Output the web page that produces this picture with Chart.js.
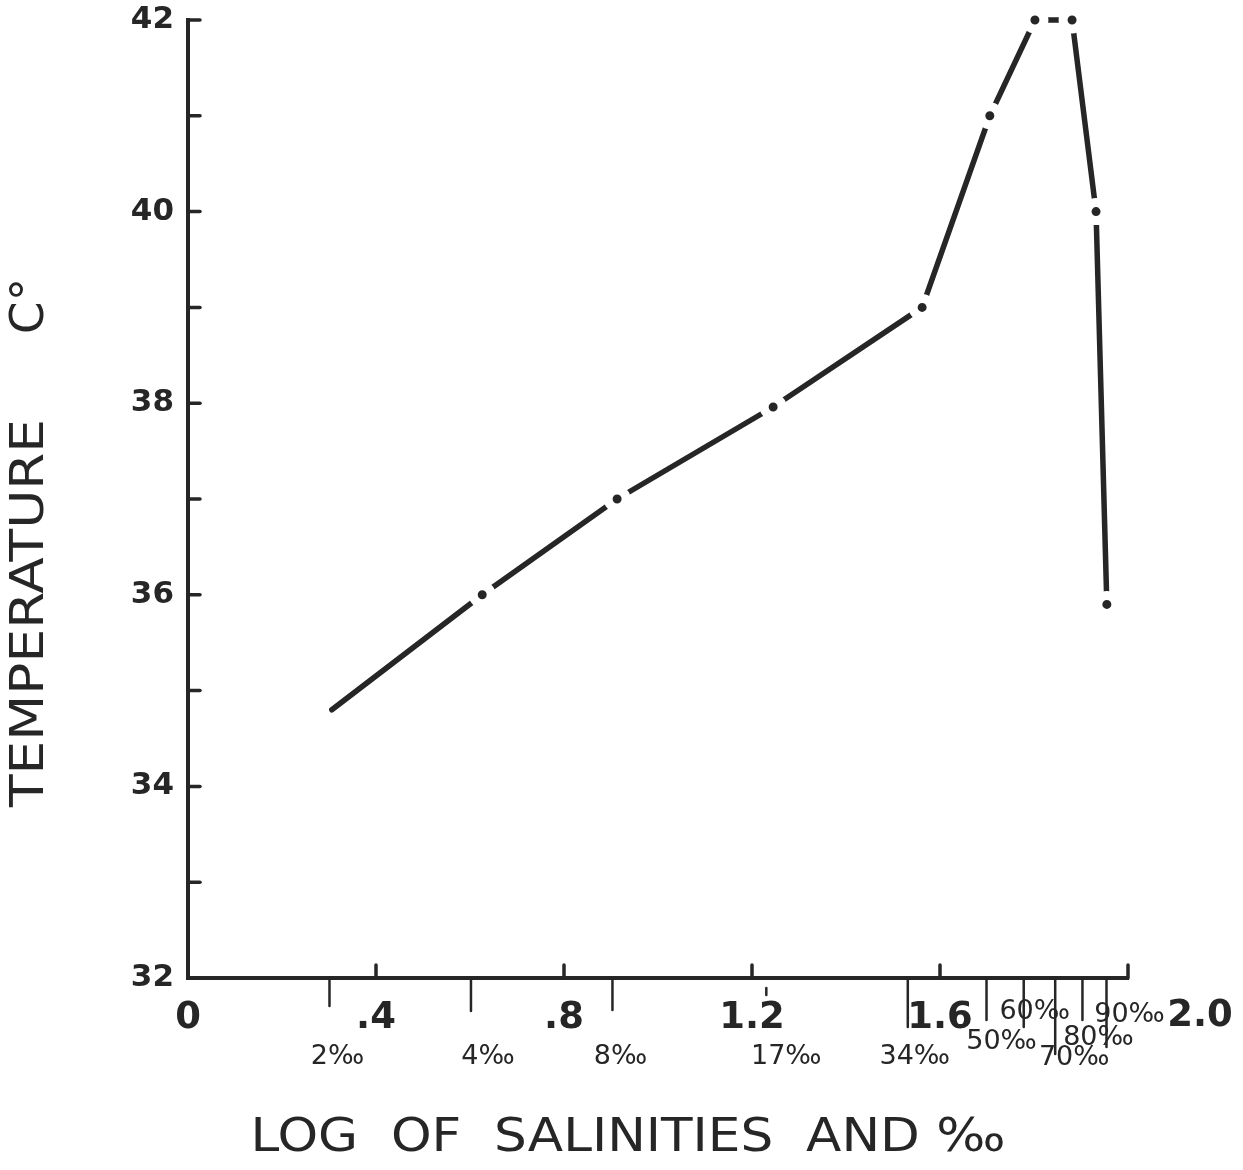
<!DOCTYPE html>
<html>
<head>
<meta charset="utf-8">
<script src="https://cdn.jsdelivr.net/npm/chart.js@4"></script>
<style>
  html, body { margin: 0; padding: 0; background: #fff; }
  #wrap { width: 1243px; height: 1170px; }
</style>
</head>
<body>
<div id="wrap"><canvas id="chart" width="1243" height="1170"></canvas></div>
<script>
// salinity in per mille, and where each reading sits on the log axis
const salinities = [2, 4, 8, 17, 34, 50, 60, 70, 80, 90];
const logSalinity = [0.306, 0.626, 0.913, 1.245, 1.562, 1.706, 1.802, 1.881, 1.932, 1.955];
const temperature = [34.8, 36.0, 37.0, 37.96, 39.0, 41.0, 42.0, 42.0, 40.0, 35.9];
const xTickLabels = ['0', '.4', '.8', '1.2', '1.6', '2.0'];
const yMin = 32, yMax = 42;

const ink = '#262626';
const font = 'DejaVu Sans';

// per-label layout of the per-mille scale (tick length, label shift, label row)
const permilleTickLen = [26, 31, 30, 15, 47, 40, 47, 74, 40, 67];
const permilleDx = [8, 17, 8, 20, 7, 15, 11, 19, 16, 23];
const permilleY = [1057, 1057, 1057, 1057, 1057, 1042, 1012, 1058, 1038, 1015];

function fitText(ctx, text, x, y, len, rot) {
  ctx.save();
  ctx.translate(x, y);
  ctx.rotate(rot);
  const w = ctx.measureText(text).width;
  ctx.scale(len / w, 1);
  ctx.textAlign = 'center';
  ctx.textBaseline = 'middle';
  ctx.fillText(text, 0, 0);
  ctx.restore();
}

const decorations = {
  id: 'decorations',
  afterDraw(chart) {
    const ctx = chart.ctx;
    const xs = chart.scales.x, ys = chart.scales.y;
    const area = chart.chartArea;
    ctx.save();
    ctx.strokeStyle = ink;
    ctx.fillStyle = ink;
    ctx.lineWidth = 3.5;
    ctx.lineCap = 'round';

    // inward ticks on the temperature axis
    for (let t = yMin; t <= yMax; t++) {
      const py = ys.getPixelForValue(t);
      ctx.beginPath();
      ctx.moveTo(area.left, py);
      ctx.lineTo(area.left + 12, py);
      ctx.stroke();
    }
    // inward ticks on the log axis
    xs.ticks.forEach((tk, i) => {
      if (i === 0) return;
      const px = xs.getPixelForValue(tk.value);
      ctx.beginPath();
      ctx.moveTo(px, area.bottom);
      ctx.lineTo(px, area.bottom - 13);
      ctx.stroke();
    });
    // end label 2.0 sits right of the axis end
    ctx.font = 'bold 37px ' + font;
    ctx.textAlign = 'center';
    ctx.textBaseline = 'middle';
    ctx.fillText(xTickLabels[xTickLabels.length - 1], xs.getPixelForValue(2.0) + 72, 1016);

    // per-mille ticks and labels
    ctx.lineWidth = 2.5;
    ctx.font = '27px ' + font;
    salinities.forEach((s, i) => {
      const px = xs.getPixelForValue(Math.log10(s));
      const y0 = i === 3 ? area.bottom + 10 : area.bottom + 2;
      ctx.beginPath();
      ctx.moveTo(px, y0);
      ctx.lineTo(px, area.bottom + 2 + permilleTickLen[i]);
      ctx.stroke();
      ctx.fillText(s + '‰', px + permilleDx[i], permilleY[i]);
    });

    // axis titles
    ctx.font = '46px ' + font;
    fitText(ctx, 'LOG  OF  SALINITIES  AND ‰', 628, 1139, 755, 0);
    fitText(ctx, 'TEMPERATURE', 31, 613, 388, -Math.PI / 2);
    fitText(ctx, 'C°', 31, 306, 56, -Math.PI / 2);
    ctx.restore();
  }
};

const points = logSalinity.map((x, i) => ({ x: x, y: temperature[i] }));

new Chart(document.getElementById('chart'), {
  type: 'line',
  data: {
    datasets: [{
      data: points,
      borderColor: ink,
      borderWidth: 5.5,
      borderCapStyle: 'round',
      tension: 0,
      clip: false,
      pointRadius: points.map((p, i) => (i === 0 ? 0 : 9)),
      pointBorderWidth: 9,
      pointBackgroundColor: ink,
      pointBorderColor: '#ffffff',
      pointHoverRadius: 9
    }]
  },
  options: {
    responsive: false,
    animation: false,
    layout: { padding: { left: 0, top: 20, right: 115, bottom: 0 } },
    plugins: { legend: { display: false }, tooltip: { enabled: false } },
    scales: {
      x: {
        type: 'linear',
        min: 0,
        max: 2.0,
        afterFit: (s) => { s.height = 192; s.paddingLeft = 0; s.paddingRight = 0; },
        grid: { display: false, drawTicks: false },
        border: { display: true, color: ink, width: 4 },
        ticks: {
          stepSize: 0.4,
          padding: 18,
          color: ink,
          font: { family: font, size: 37, weight: 'bold' },
          maxRotation: 0,
          callback: (v, i) => (i < xTickLabels.length - 1 ? xTickLabels[i] : '')
        }
      },
      y: {
        min: yMin,
        max: yMax,
        afterFit: (s) => { s.width = 188; s.paddingTop = 0; s.paddingBottom = 0; },
        grid: { display: false, drawTicks: false },
        border: { display: true, color: ink, width: 4 },
        ticks: {
          stepSize: 1,
          padding: 14,
          color: ink,
          font: { family: font, size: 31, weight: 'bold' },
          callback: (v) => (v % 2 === 0 ? String(v) : '')
        }
      }
    }
  },
  plugins: [decorations]
});
</script>
</body>
</html>
